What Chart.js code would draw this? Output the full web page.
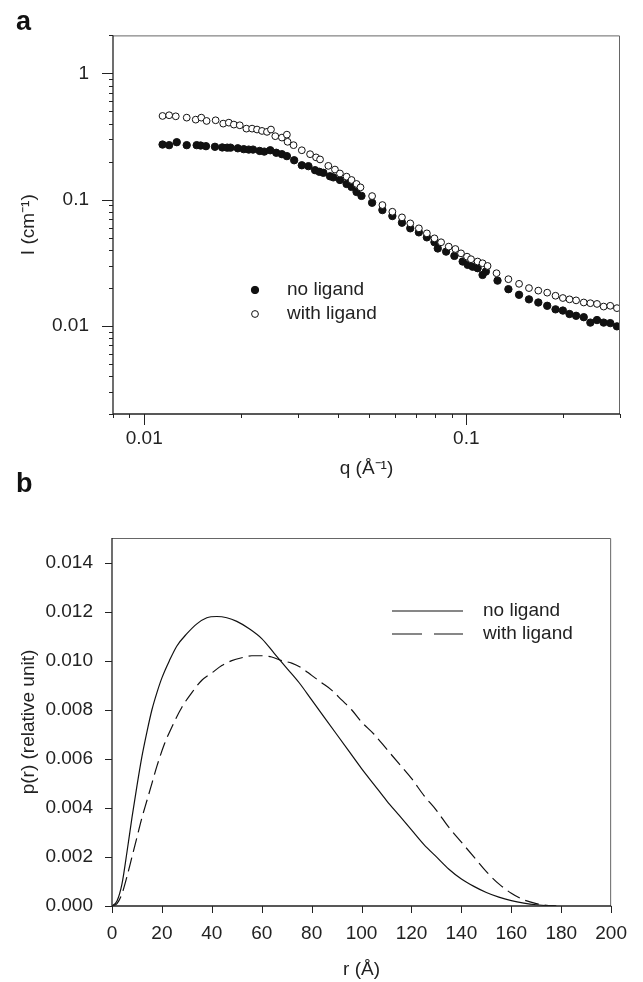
<!DOCTYPE html>
<html>
<head>
<meta charset="utf-8">
<script src="https://cdn.jsdelivr.net/npm/chart.js@4.4.1/dist/chart.umd.min.js"></script>
<style>
    html, body { margin: 0; padding: 0; background: #fff; }
    #wrap { position: relative; width: 643px; height: 982px; }
    .panel { position: absolute; font: bold 27px "Liberation Sans", Arial, sans-serif; line-height: 27px; color: #111; }
    canvas { position: absolute; left: 0; }
</style>
</head>
<body>
<div id="wrap">
    <canvas id="saxsChart" width="643" height="500" style="top:0"></canvas>
    <canvas id="prChart" width="643" height="482" style="top:500px"></canvas>
    <div class="panel" style="left:16px;top:8px">a</div>
    <div class="panel" style="left:16px;top:470px">b</div>
</div>
<script>
// Panel a - SAXS curves I(q)
const qNoLigand = [
    0.01140, 0.01195, 0.01262, 0.01355, 0.01455, 0.01497, 0.01555, 0.01658, 0.01747, 0.01810,
    0.01853, 0.01952, 0.02037, 0.02111, 0.02177, 0.02283, 0.02359, 0.02462, 0.02570, 0.02676,
    0.02773, 0.02921, 0.03085, 0.03235, 0.03392, 0.03498, 0.03599, 0.03774, 0.03864, 0.04052,
    0.04249, 0.04402, 0.04562, 0.04726, 0.05099, 0.05489, 0.05894, 0.06313, 0.06699, 0.07124,
    0.07543, 0.07963, 0.08154, 0.08655, 0.09183, 0.09743, 0.1010, 0.1046, 0.1084, 0.1123,
    0.1150, 0.1250, 0.1351, 0.1458, 0.1565, 0.1673, 0.1783, 0.1892, 0.1994, 0.2091,
    0.2192, 0.2315, 0.2427, 0.2545, 0.2669, 0.2798, 0.2935
];
const iNoLigand = [
    0.273, 0.270, 0.285, 0.270, 0.270, 0.268, 0.265, 0.262, 0.259, 0.258,
    0.258, 0.255, 0.251, 0.249, 0.249, 0.243, 0.240, 0.246, 0.235, 0.229,
    0.221, 0.205, 0.187, 0.184, 0.171, 0.166, 0.163, 0.153, 0.150, 0.143,
    0.133, 0.126, 0.115, 0.107, 0.0944, 0.0826, 0.0741, 0.0656, 0.0592, 0.0550,
    0.0502, 0.0460, 0.0410, 0.0387, 0.0358, 0.0323, 0.0304, 0.0294, 0.0286, 0.0253,
    0.0269, 0.0228, 0.0195, 0.0176, 0.0162, 0.0153, 0.0144, 0.0135, 0.0132, 0.0124,
    0.0120, 0.0117, 0.0106, 0.0111, 0.0106, 0.0105, 0.0099
];
const qWithLigand = [
    0.01140, 0.01195, 0.01253, 0.01355, 0.01445, 0.01504, 0.01562, 0.01666, 0.01759, 0.01831,
    0.01898, 0.01980, 0.02076, 0.02162, 0.02240, 0.02321, 0.02405, 0.02475, 0.02552, 0.02676,
    0.02773, 0.02786, 0.02908, 0.03085, 0.03273, 0.03416, 0.03515, 0.03729, 0.03910, 0.04052,
    0.04249, 0.04402, 0.04562, 0.04693, 0.05099, 0.05489, 0.05894, 0.06313, 0.06699, 0.07124,
    0.07543, 0.07963, 0.08350, 0.08818, 0.09247, 0.09627, 0.1005, 0.1034, 0.1084, 0.1123,
    0.1164, 0.1241, 0.1351, 0.1458, 0.1565, 0.1673, 0.1783, 0.1892, 0.1994, 0.2091,
    0.2192, 0.2315, 0.2427, 0.2545, 0.2669, 0.2798, 0.2935
];
const iWithLigand = [
    0.460, 0.466, 0.457, 0.446, 0.430, 0.446, 0.420, 0.425, 0.400, 0.407,
    0.393, 0.388, 0.365, 0.365, 0.359, 0.350, 0.344, 0.359, 0.318, 0.310,
    0.327, 0.287, 0.270, 0.246, 0.229, 0.216, 0.208, 0.185, 0.173, 0.161,
    0.152, 0.143, 0.133, 0.125, 0.1066, 0.0905, 0.0801, 0.0723, 0.0648, 0.0592,
    0.0540, 0.0493, 0.0459, 0.0424, 0.0406, 0.0375, 0.0353, 0.0337, 0.0323, 0.0313,
    0.0298, 0.0261, 0.0234, 0.0215, 0.0199, 0.0190, 0.0183, 0.0173, 0.0166, 0.0162,
    0.0159, 0.0153, 0.0151, 0.0149, 0.0142, 0.0144, 0.0138
];
const qMajorTicks = [0.01, 0.1];
const qMinorTicks = [0.008, 0.009, 0.02, 0.03, 0.04, 0.05, 0.06, 0.07, 0.08, 0.09, 0.2, 0.3];
const iMajorTicks = [0.01, 0.1, 1];
const iMinorTicks = [0.002, 0.003, 0.004, 0.005, 0.006, 0.007, 0.008, 0.009,
    0.02, 0.03, 0.04, 0.05, 0.06, 0.07, 0.08, 0.09,
    0.2, 0.3, 0.4, 0.5, 0.6, 0.7, 0.8, 0.9, 2];

// Panel b - pair distance distribution p(r)
const rNoLigand = [0, 2, 4, 6, 8, 10, 12, 14, 16, 18, 20, 23, 26, 30, 34, 38, 42, 46, 50, 55,
    60, 65, 70, 75, 80, 85, 90, 95, 100, 105, 110, 115, 120, 125, 130, 135, 140, 145, 150, 155,
    160, 165, 170, 175, 178];
const pNoLigand = [0, 0.0002, 0.0009, 0.0022, 0.0036, 0.0049, 0.0061, 0.0071, 0.0080, 0.0087,
    0.0093, 0.0100, 0.0106, 0.0111, 0.0115, 0.01175, 0.0118, 0.01175, 0.0116, 0.0113,
    0.0109, 0.0103, 0.0097, 0.0091, 0.0084, 0.0077, 0.0070, 0.0063, 0.0056, 0.00495,
    0.0043, 0.0037, 0.0031, 0.0025, 0.0020, 0.0015, 0.0011, 0.0008, 0.00055, 0.00036,
    0.00022, 0.00012, 0.00005, 0.00001, 0];
const rWithLigand = [0, 2, 4, 6, 8, 10, 12, 14, 16, 18, 21, 24, 28, 32, 36, 40, 44, 48, 52, 56,
    60, 64, 68, 72, 76, 80, 84, 88, 92, 96, 100, 105, 110, 115, 120, 125, 130, 135, 140, 145,
    150, 155, 160, 165, 170, 175, 178];
const pWithLigand = [0, 0.0001, 0.0005, 0.0012, 0.0020, 0.0028, 0.0036, 0.0043, 0.0050, 0.0057,
    0.0066, 0.0073, 0.0081, 0.0087, 0.0092, 0.0095, 0.0098, 0.0100, 0.01012, 0.0102,
    0.0102, 0.01015, 0.0100, 0.0099, 0.0097, 0.0094, 0.0091, 0.0088, 0.0084, 0.0080,
    0.0075, 0.0070, 0.0064, 0.0058, 0.0052, 0.0045, 0.0039, 0.0032, 0.0026, 0.0020,
    0.0014, 0.0009, 0.00052, 0.00025, 0.0001, 0.00002, 0];
const rTicks = [0, 20, 40, 60, 80, 100, 120, 140, 160, 180, 200];
const pTicks = [0, 0.002, 0.004, 0.006, 0.008, 0.010, 0.012, 0.014];

const FONT = '"Liberation Sans", Arial, sans-serif';
const INK = '#222';

// marcos y marcas de ejes dibujados a mano (estilo SigmaPlot)
const frameTicks = {
    id: 'frameTicks',
    afterDatasetsDraw(chart, args, opts) {
        const { ctx, chartArea: a, scales } = chart;
        ctx.save();
        ctx.lineWidth = 1;
        ctx.strokeStyle = '#666';
        ctx.beginPath();
        ctx.moveTo(a.left, a.top + 0.5);
        ctx.lineTo(a.right - 0.5, a.top + 0.5);
        ctx.lineTo(a.right - 0.5, a.bottom);
        ctx.stroke();
        ctx.strokeStyle = INK;
        ctx.lineWidth = 1.3;
        ctx.beginPath();
        ctx.moveTo(a.left, a.top);
        ctx.lineTo(a.left, a.bottom);
        ctx.lineTo(a.right, a.bottom);
        ctx.stroke();

        ctx.lineWidth = 1;
        const xTick = (v, len) => {
            const px = Math.round(scales.x.getPixelForValue(v)) + 0.5;
            ctx.moveTo(px, a.bottom);
            ctx.lineTo(px, a.bottom + len);
        };
        const yTick = (v, len) => {
            const py = Math.round(scales.y.getPixelForValue(v)) + 0.5;
            ctx.moveTo(a.left, py);
            ctx.lineTo(a.left - len, py);
        };
        ctx.beginPath();
        opts.xMajor.forEach(v => xTick(v, opts.majorLen));
        (opts.xMinor || []).forEach(v => xTick(v, opts.minorLen));
        opts.yMajor.forEach(v => yTick(v, opts.majorLen));
        (opts.yMinor || []).forEach(v => yTick(v, opts.minorLen));
        ctx.stroke();

        // leyenda dentro del área
        const lg = opts.legend;
        ctx.font = '19px ' + FONT;
        ctx.fillStyle = INK;
        ctx.textBaseline = 'middle';
        lg.items.forEach((it, i) => {
            const y = lg.y + i * lg.gap;
            ctx.strokeStyle = '#111';
            if (it.kind === 'line') {
                ctx.lineWidth = 1.2;
                ctx.setLineDash(it.dash || []);
                ctx.beginPath();
                ctx.moveTo(lg.x1, y);
                ctx.lineTo(lg.x2, y);
                ctx.stroke();
                ctx.setLineDash([]);
            } else {
                ctx.lineWidth = 1;
                ctx.beginPath();
                ctx.arc(lg.marker, y, it.radius, 0, Math.PI * 2);
                ctx.fillStyle = it.fill;
                ctx.fill();
                ctx.stroke();
            }
            ctx.fillStyle = INK;
            ctx.fillText(it.label, lg.textX, y);
        });
        ctx.restore();
    }
};

const tickFont = { family: FONT, size: 19 };
const titleFont = { family: FONT, size: 19 };

// Gráfico a: dispersión log-log
new Chart(document.getElementById('saxsChart'), {
    type: 'scatter',
    data: {
        datasets: [
            {
                label: 'with ligand',
                data: qWithLigand.map((q, i) => ({ x: q, y: iWithLigand[i] })),
                pointRadius: 3.4,
                pointBackgroundColor: '#fff',
                pointBorderColor: '#111',
                pointBorderWidth: 1
            },
            {
                label: 'no ligand',
                data: qNoLigand.map((q, i) => ({ x: q, y: iNoLigand[i] })),
                pointRadius: 3.7,
                pointBackgroundColor: '#111',
                pointBorderColor: '#111',
                pointBorderWidth: 1
            }
        ]
    },
    options: {
        responsive: false,
        animation: false,
        layout: { padding: { left: 0, right: 23, top: 35, bottom: 0 } },
        plugins: {
            legend: { display: false },
            tooltip: { enabled: false },
            frameTicks: {
                xMajor: qMajorTicks, xMinor: qMinorTicks,
                yMajor: iMajorTicks, yMinor: iMinorTicks,
                majorLen: 11, minorLen: 4,
                legend: {
                    x1: 0, x2: 0, marker: 255, textX: 287, y: 290, gap: 24,
                    items: [
                        { kind: 'dot', label: 'no ligand', fill: '#111', radius: 3.7 },
                        { kind: 'dot', label: 'with ligand', fill: '#fff', radius: 3.4 }
                    ]
                }
            }
        },
        scales: {
            x: {
                type: 'logarithmic',
                min: 0.008,
                max: 0.3,
                grid: { display: false, drawTicks: false },
                border: { display: false },
                afterBuildTicks: (scale) => { scale.ticks = qMajorTicks.map(v => ({ value: v })); },
                afterFit: (scale) => { scale.height = 86; },
                ticks: { autoSkip: false, maxRotation: 0, padding: 13, color: INK, font: tickFont,
                    callback: (v) => String(v) },
                title: { display: true, text: 'q (Å⁻¹)', color: INK, font: titleFont,
                    padding: { top: 0, bottom: 20 } }
            },
            y: {
                type: 'logarithmic',
                min: 0.002,
                max: 2,
                grid: { display: false, drawTicks: false },
                border: { display: false },
                afterBuildTicks: (scale) => { scale.ticks = iMajorTicks.map(v => ({ value: v })); },
                afterFit: (scale) => { scale.width = 113; },
                ticks: { autoSkip: false, padding: 24, color: INK, font: tickFont,
                    callback: (v) => String(v) },
                title: { display: true, text: 'I (cm⁻¹)', color: INK, font: titleFont,
                    padding: { top: 17, bottom: 0 } }
            }
        }
    },
    plugins: [frameTicks]
});

// Gráfico b: p(r)
new Chart(document.getElementById('prChart'), {
    type: 'line',
    data: {
        datasets: [
            {
                label: 'no ligand',
                data: rNoLigand.map((r, i) => ({ x: r, y: pNoLigand[i] })),
                borderColor: '#111',
                borderWidth: 1.2,
                pointRadius: 0,
                cubicInterpolationMode: 'monotone'
            },
            {
                label: 'with ligand',
                data: rWithLigand.map((r, i) => ({ x: r, y: pWithLigand[i] })),
                borderColor: '#111',
                borderWidth: 1.2,
                borderDash: [14, 6],
                pointRadius: 0,
                cubicInterpolationMode: 'monotone'
            }
        ]
    },
    options: {
        responsive: false,
        animation: false,
        layout: { padding: { left: 0, right: 26, top: 38, bottom: 0 } },
        plugins: {
            legend: { display: false },
            tooltip: { enabled: false },
            frameTicks: {
                xMajor: rTicks, yMajor: pTicks,
                majorLen: 7, minorLen: 0,
                legend: {
                    x1: 392, x2: 463, textX: 483, y: 111, gap: 23,
                    items: [
                        { kind: 'line', label: 'no ligand' },
                        { kind: 'line', label: 'with ligand', dash: [30, 12] }
                    ]
                }
            }
        },
        scales: {
            x: {
                type: 'linear',
                min: 0,
                max: 200,
                grid: { display: false, drawTicks: false },
                border: { display: false },
                afterBuildTicks: (scale) => { scale.ticks = rTicks.map(v => ({ value: v })); },
                afterFit: (scale) => { scale.height = 76; },
                ticks: { autoSkip: false, maxRotation: 0, padding: 16, color: INK, font: tickFont },
                title: { display: true, text: 'r (Å)', color: INK, font: titleFont,
                    padding: { top: 0, bottom: 1 } }
            },
            y: {
                type: 'linear',
                min: 0,
                max: 0.015,
                grid: { display: false, drawTicks: false },
                border: { display: false },
                afterBuildTicks: (scale) => { scale.ticks = pTicks.map(v => ({ value: v })); },
                afterFit: (scale) => { scale.width = 112; },
                ticks: { autoSkip: false, padding: 19, color: INK, font: tickFont,
                    callback: (v) => v.toFixed(3) },
                title: { display: true, text: 'p(r) (relative unit)', color: INK, font: titleFont,
                    padding: { top: 17, bottom: 0 } }
            }
        }
    },
    plugins: [frameTicks]
});
</script>
</body>
</html>
